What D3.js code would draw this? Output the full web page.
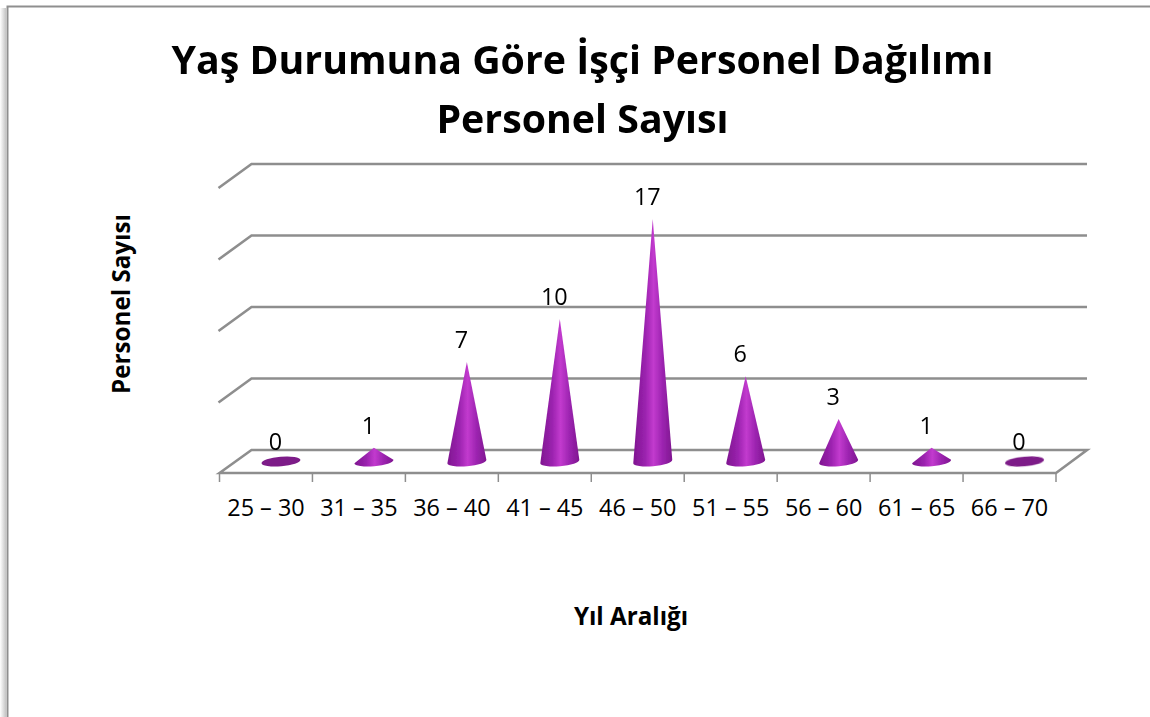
<!DOCTYPE html>
<html><head><meta charset="utf-8">
<script src="https://cdn.jsdelivr.net/npm/d3@7"></script>
<style>html,body{margin:0;padding:0;background:#fff;overflow:hidden}svg{display:block}text{font-family:"Open Sans",sans-serif;fill:#000}</style>
</head><body><svg id="c" width="1150" height="717"></svg>
<script>
const categories = ["25 – 30","31 – 35","36 – 40","41 – 45","46 – 50","51 – 55","56 – 60","61 – 65","66 – 70"];
const personel = [0,1,7,10,17,6,3,1,0];
const gridValues = [0,5,10,15,20];
const titleLines = ["Yaş Durumuna Göre İşçi Personel Dağılımı","Personel Sayısı"];
const yTitle = "Personel Sayısı";
const xTitle = "Yıl Aralığı";

const svg = d3.select("#c");
const defs = svg.append("defs");
const depth = {x:32,y:-23};
const x = d3.scaleBand().domain(categories).range([219.5,1056]);
const y = d3.scaleLinear().domain([0,20]).range([473,187]);

const sh = defs.append("linearGradient").attr("id","sh").attr("x1",0).attr("x2",1).attr("y1",0).attr("y2",0);
sh.append("stop").attr("offset",0).attr("stop-color","#fff");
sh.append("stop").attr("offset",1).attr("stop-color","#c4c4c4");
const g = defs.append("linearGradient").attr("id","cone").attr("x1",0).attr("x2",1).attr("y1",0).attr("y2",0);
[[0,"#7f1690"],[.3,"#9a22ae"],[.52,"#c23ace"],[.75,"#9c24b0"],[1,"#7f1690"]].forEach(s=>g.append("stop").attr("offset",s[0]).attr("stop-color",s[1]));
const soft = defs.append("filter").attr("id","soft");
soft.append("feGaussianBlur").attr("stdDeviation",.45);

// frame
svg.append("rect").attr("x",0).attr("y",8).attr("width",6).attr("height",709).attr("fill","url(#sh)");
svg.append("path").attr("d","M7.5 717V6.5H1150").attr("fill","none").attr("stroke","#8f8f8f").attr("stroke-width",2);

// walls and floor
const wall = svg.append("g").attr("fill","none").attr("stroke","#8e8e8e").attr("stroke-width",2.6).attr("filter","url(#soft)");
gridValues.forEach(v=>{
  const [x0,x1]=x.range();
  if(v===0){
    wall.append("path").attr("d",`M${x0} ${y(0)}L${x0+depth.x} ${y(0)+depth.y}H${x1+depth.x-1}L${x1} ${y(0)}Z`);
  } else {
    wall.append("path").attr("d",`M${x0-1} ${y(v)+1}L${x0+depth.x} ${y(v)+depth.y}H1087`);
  }
});

// x axis
const tickEdges = categories.map(c=>x(c)).concat([x.range()[1]]);
svg.append("g").attr("stroke","#8e8e8e").attr("stroke-width",1.5)
  .selectAll("line").data(tickEdges).join("line")
  .attr("x1",d=>d).attr("x2",d=>d).attr("y1",y(0)).attr("y2",y(0)+9);
const ax = svg.append("g").attr("transform",`translate(0,${y(0)+9})`)
  .call(d3.axisBottom(x).tickSize(0).tickPadding(17));
ax.select(".domain").remove();
ax.selectAll("text").attr("font-size",23.4).attr("font-family",'"Open Sans",sans-serif').attr("fill","#000");

// cones
const rx=19.5, ry=4.8;
const cg = svg.append("g").attr("filter","url(#soft)");
personel.forEach((v,i)=>{
  const cx=x(categories[i])+x.bandwidth()/2+depth.x/2-1;
  const cy=y(0)+depth.y/2;
  const ty=cy-(y(0)-y(v))+0.5;
  const lx=cx-rx, ly=cy+1.7, rxp=cx+rx, ryp=cy-1.7;
  if(v===0){
    cg.append("ellipse").attr("cx",cx).attr("cy",cy).attr("rx",rx).attr("ry",ry)
      .attr("transform",`rotate(-5 ${cx} ${cy})`).attr("fill","#7d1c88");
  } else {
    cg.append("path").attr("d",`M${cx} ${ty}L${rxp} ${ryp}A${rx} ${ry} -5 0 1 ${lx} ${ly}Z`).attr("fill","url(#cone)");
  }
  svg.append("text").attr("x",cx-5.5).attr("y",ty-(v===0?12.5:14)).attr("text-anchor","middle").attr("font-size",23.4).text(v);
});

// titles
svg.selectAll(".t").data(titleLines).join("text").attr("class","t")
  .attr("x",582.5).attr("y",(d,i)=>74+i*59).attr("text-anchor","middle")
  .attr("font-size",39.3).attr("font-weight",700).text(d=>d);
svg.append("text").attr("transform","translate(130,304) rotate(-90)").attr("text-anchor","middle")
  .attr("font-size",24.2).attr("font-weight",700).text(yTitle);
svg.append("text").attr("x",631).attr("y",625).attr("text-anchor","middle")
  .attr("font-size",24.2).attr("font-weight",700).text(xTitle);
</script></body></html>
